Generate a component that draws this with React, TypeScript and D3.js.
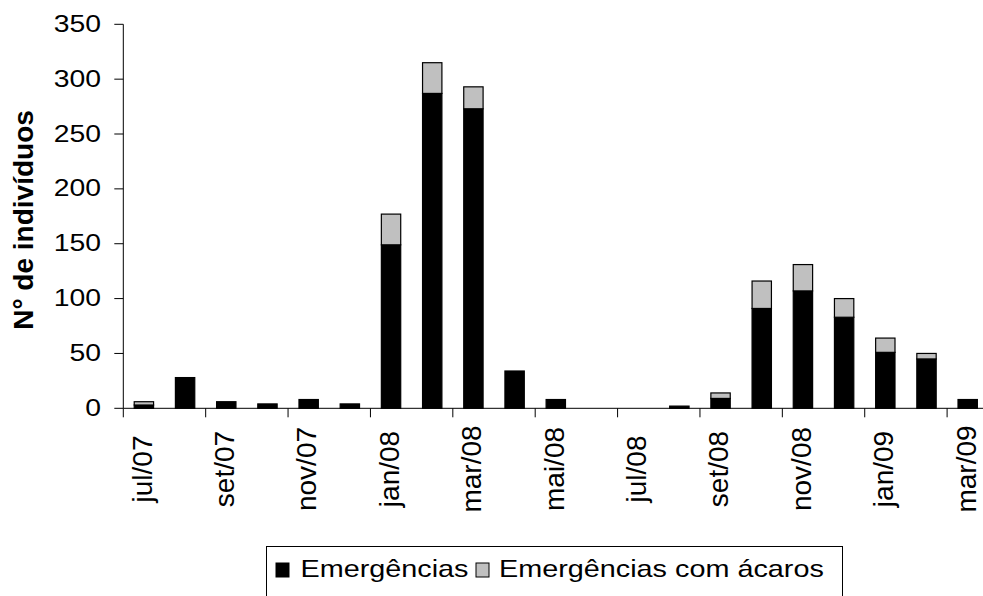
import React from "react";
import * as d3 from "d3";

const months = [
  "jul/07", "ago/07", "set/07", "out/07", "nov/07", "dez/07",
  "jan/08", "fev/08", "mar/08", "abr/08", "mai/08", "jun/08",
  "jul/08", "ago/08", "set/08", "out/08", "nov/08", "dez/08",
  "jan/09", "fev/09", "mar/09",
];
const emergencias = [3, 28, 6, 4, 8, 4, 149, 287, 273, 34, 8, 0, 0, 2, 9, 91, 107, 83, 51, 45, 8];
const comAcaros = [3, 0, 0, 0, 0, 0, 28, 28, 20, 0, 0, 0, 0, 0, 5, 25, 24, 17, 13, 5, 0];
const yTicks = [0, 50, 100, 150, 200, 250, 300, 350];
const seriesNames = ["Emergências", "Emergências com ácaros"];
const seriesColors = ["#000000", "#C0C0C0"];

const W = 983;
const H = 596;
const x0 = 123.3;
const step = 41.19;
const font = "'Liberation Sans', Arial, sans-serif";

const App = () => {
  const table = months.map((m, i) => ({ month: m, emerg: emergencias[i], acaros: comAcaros[i] }));
  const stacked = d3.stack<any>().keys(["emerg", "acaros"])(table);

  const x = d3
    .scaleBand()
    .domain(months)
    .range([x0, x0 + months.length * step])
    .paddingInner(0.53)
    .paddingOuter(0.265);

  const y = d3.scaleLinear().domain([0, 350]).range([408.3, 24.3]);

  return (
    <svg width={W} height={H} style={{ display: "block", position: "absolute", left: 0, top: 0 }}>
      <rect x={0} y={0} width={W} height={H} fill="#fff" />

      {/* bars */}
      {stacked.map((layer, si) => (
        <g key={si}>
          {layer.map((d, i) =>
            d[1] - d[0] > 0 ? (
              <rect
                key={i}
                x={x(months[i])}
                y={y(d[1])}
                width={x.bandwidth()}
                height={y(d[0]) - y(d[1])}
                fill={seriesColors[si]}
                stroke="#000"
                strokeWidth={1.2}
              />
            ) : null
          )}
        </g>
      ))}

      {/* y axis */}
      <line x1={x0} x2={x0} y1={y(350)} y2={y(0)} stroke="#000" strokeWidth={1} />
      {yTicks.map((t) => (
        <g key={t}>
          <line x1={x0 - 9} x2={x0} y1={y(t)} y2={y(t)} stroke="#000" strokeWidth={1} />
          <text
            transform={`translate(101,${y(t) + 7.5}) scale(1.18,1)`}
            textAnchor="end"
            fontFamily={font}
            fontSize={24}
            fill="#000"
          >
            {t}
          </text>
        </g>
      ))}

      {/* x axis */}
      <line x1={x0} x2={W} y1={y(0)} y2={y(0)} stroke="#000" strokeWidth={1} />
      {months.map((m, i) =>
        i % 2 === 0 ? (
          <g key={m}>
            <line
              x1={x0 + i * step}
              x2={x0 + i * step}
              y1={y(0)}
              y2={y(0) + 9}
              stroke="#000"
              strokeWidth={1}
            />
            <text
              transform={`translate(${(x(m) as number) + x.bandwidth() / 2 - 2},469) rotate(-90)`}
              textAnchor="middle"
              dy="0.35em"
              fontFamily={font}
              fontSize={28}
              fill="#000"
            >
              {m}
            </text>
          </g>
        ) : null
      )}

      {/* y title */}
      <text
        transform="translate(33,220) rotate(-90)"
        textAnchor="middle"
        fontFamily={font}
        fontWeight="bold"
        fontSize={28}
        fill="#000"
      >
        N° de indivíduos
      </text>

      {/* legend */}
      <rect x={266.5} y={546.5} width={576} height={70} fill="#fff" stroke="#000" strokeWidth={1} />
      <rect x={276} y={563} width={13} height={14} fill={seriesColors[0]} stroke="#000" strokeWidth={1} />
      <text transform="translate(300.5,577.3) scale(1.2,1)" fontFamily={font} fontSize={24} fill="#000">
        {seriesNames[0]}
      </text>
      <rect x={476} y={563} width={13} height={14} fill={seriesColors[1]} stroke="#000" strokeWidth={1} />
      <text transform="translate(499,577.3) scale(1.2,1)" fontFamily={font} fontSize={24} fill="#000">
        {seriesNames[1]}
      </text>
    </svg>
  );
};

export default App;
